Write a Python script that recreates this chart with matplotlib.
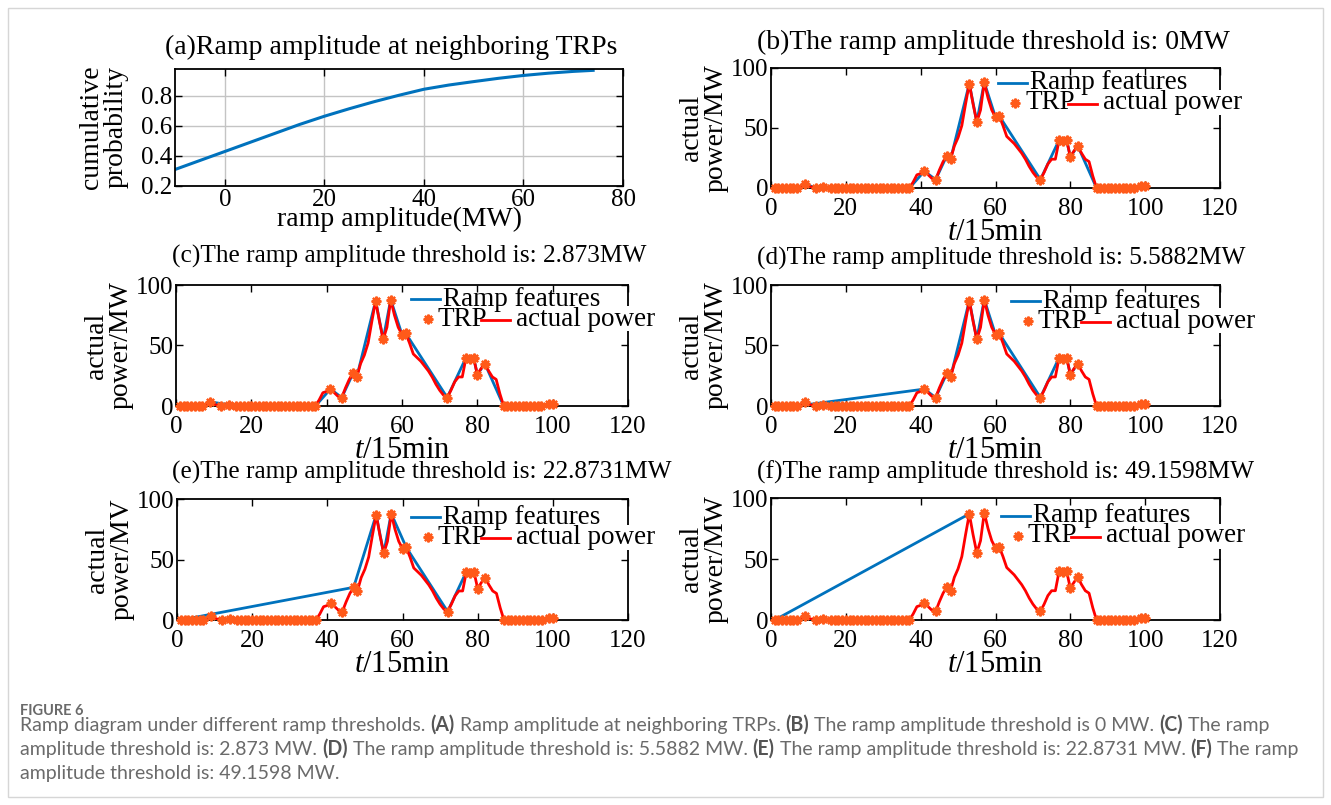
import numpy as np
import matplotlib
matplotlib.use("Agg")
import matplotlib.pyplot as plt
from matplotlib.patches import Rectangle

plt.rcParams['font.family'] = ['Liberation Serif', 'DejaVu Serif']
plt.rcParams['mathtext.fontset'] = 'custom'
plt.rcParams['mathtext.rm'] = 'Liberation Serif'
plt.rcParams['mathtext.it'] = 'Liberation Serif:italic'

W, H = 1331, 805

# ---- data ----
# (a) cumulative distribution of ramp amplitude
amp_mw = [-10, -5, 0, 5, 10, 15, 20, 25, 30, 35, 40, 45, 50, 55, 60, 65, 70, 74]
cum_prob = [0.31, 0.37, 0.43, 0.49, 0.55, 0.61, 0.665, 0.715, 0.762, 0.805,
            0.845, 0.873, 0.896, 0.918, 0.937, 0.952, 0.964, 0.971]

# actual power, t = 1..100 (15 min steps)
t_steps = list(range(1, 101))
power = [0, 0, 0, 0, 0, 0, 0, 1.5, 3.5, 1.5,
         0.5, 0, 0.5, 1, 0, 0, 0, 0, 0, 0,
         0, 0, 0, 0, 0, 0, 0, 0, 0, 0,
         0, 0, 0, 0, 0, 0, 0, 5, 11, 12,
         14, 11, 8, 7, 15, 22, 27, 24, 35, 42,
         52, 70, 87, 70, 55, 65, 88, 75, 65, 59,
         60, 52, 43, 40, 37, 33, 29, 24, 18, 13,
         9, 7, 13, 20, 24, 24, 40, 39, 40, 26,
         31, 35, 29, 24, 22, 10, 0, 0, 0, 0,
         0, 0, 0, 0, 0, 0, 0, 1, 1.5, 2]

# turning points (TRP), same in every panel
trp_idx = ([1, 2, 3, 4, 5, 6, 7, 9, 12, 14] + list(range(16, 38)) +
           [41, 44, 47, 48, 53, 55, 57, 60, 61, 72, 77, 78, 79, 80, 82] +
           list(range(87, 98)) + [99, 100])

# TRPs kept as ramp features for each threshold
ramp_b = trp_idx
ramp_c = [1, 7, 9, 16, 37, 41, 44, 47, 48, 53, 55, 57, 60, 61, 72, 77, 78, 79, 80, 82, 87]
ramp_d = [7, 41, 44, 47, 48, 53, 55, 57, 60, 61, 72, 77, 78, 79, 80, 82]
ramp_e = [1, 47, 53, 55, 57, 61, 72, 77]
ramp_f = [1, 53]

titles = ["(b)The ramp amplitude threshold is: 0MW",
          "(c)The ramp amplitude threshold is: 2.873MW",
          "(d)The ramp amplitude threshold is: 5.5882MW",
          "(e)The ramp amplitude threshold is: 22.8731MW",
          "(f)The ramp amplitude threshold is: 49.1598MW"]
ylabels = ["actual\npower/MW", "actual\npower/MW", "actual\npower/MW",
           "actual\npower/MV", "actual\npower/MW"]

BLUE = '#0072BD'
RED = '#FF0000'
ORANGE = '#FF5A1A'
FS = 20        # titles of (a), (b), axis labels
TFS = 18.3     # titles of (c)-(f)
TICK_FS = 18
LFS = 19.5     # legend
TRP_MARK = (8, 2, 0)   # asterisk, like MATLAB '*'

fig = plt.figure(figsize=(W / 100, H / 100), dpi=100)
fig.patches.append(Rectangle((8 / W, 8 / H), 1 - 16 / W, 1 - 16 / H,
                             transform=fig.transFigure, fill=False,
                             ec='#d6d6d6', lw=1))


def px_axes(l, t, r, b):
    return fig.add_axes([l / W, 1 - b / H, (r - l) / W, (b - t) / H])


def style(ax, xpad):
    ax.tick_params(direction='in', top=True, right=True, length=5, width=1,
                   labelsize=TICK_FS, colors='black')
    ax.tick_params(axis='x', pad=xpad)
    ax.tick_params(axis='y', pad=2)
    for s in ax.spines.values():
        s.set_linewidth(1.3)


def ftext(x, y, s, **kw):
    return fig.text(x / W, 1 - y / H, s, **kw)


# ---- (a) ----
ax = px_axes(175, 69, 623, 186)
ax.plot(amp_mw, cum_prob, color=BLUE, lw=2.2)
ax.set_xlim(-10, 80)
ax.set_ylim(0.2, 0.98)
ax.set_xticks([0, 20, 40, 60, 80])
ax.set_yticks([0.2, 0.4, 0.6, 0.8])
ax.grid(True, color='#c4c4c4', lw=1)
style(ax, 2)
ftext(165, 47, "(a)Ramp amplitude at neighboring TRPs", fontsize=FS,
      ha='left', va='center')
ftext(104, 127, "cumulative\nprobability", fontsize=FS, rotation=90,
      ha='center', va='center', linespacing=1.0)
ftext(400, 219, "ramp amplitude(MW)", fontsize=FS, ha='center', va='center')

# ---- (b)-(f) ----
rects = [(771, 68, 1220, 188), (176, 285, 628, 406), (771, 285, 1220, 406),
         (177, 499, 628, 620), (771, 498, 1220, 620)]
title_pos = [(757, 42), (172, 256), (757, 258), (172, 472), (757, 472)]
ramps = [ramp_b, ramp_c, ramp_d, ramp_e, ramp_f]
leg_off = [(0, 0), (8, -1), (13, 1), (7, 3), (3, 3)]

p = np.array(power)
tt = np.array(t_steps)
trp = np.array(trp_idx) - 1

for k in range(5):
    l, t, r, b = rects[k]
    ax = px_axes(l, t, r, b)
    ri = np.array(ramps[k]) - 1
    ax.plot(tt[ri], p[ri], color=BLUE, lw=2, zorder=2)
    ax.plot(tt, p, color=RED, lw=2, zorder=3)
    ax.plot(tt[trp], p[trp], ls='none', marker=TRP_MARK, ms=7, mew=1.6,
            color=ORANGE, zorder=4, clip_on=False)
    ax.set_xlim(0, 120)
    ax.set_ylim(0, 100)
    ax.set_xticks(range(0, 121, 20))
    ax.set_yticks([0, 50, 100])
    style(ax, 7)

    ftext(title_pos[k][0], title_pos[k][1], titles[k],
          fontsize=FS if k == 0 else TFS, ha='left', va='center')
    ftext(l - 67, (t + b) / 2, ylabels[k], fontsize=FS, rotation=90,
          ha='center', va='center', linespacing=1.0)
    ftext((l + r) / 2, b + 44, r"$t$/15min", fontsize=22, ha='center',
          va='center')

    # legend drawn by hand, MATLAB-like layout
    aw, ah = r - l, b - t
    dx, dy = leg_off[k]

    def fx(v):
        return (v + dx) / aw

    def fy(v):
        return 1 - (v + dy) / ah

    ax.plot([fx(227), fx(256)], [fy(15), fy(15)], color=BLUE, lw=2,
            transform=ax.transAxes, clip_on=False, zorder=6)
    ax.text(fx(259), fy(15), "Ramp features", fontsize=LFS, ha='left',
            va='center', transform=ax.transAxes, zorder=6)
    ax.plot([fx(244)], [fy(35)], ls='none', marker=TRP_MARK, ms=7, mew=1.6,
            color=ORANGE, transform=ax.transAxes, clip_on=False, zorder=6)
    ax.text(fx(254), fy(35), "TRP", fontsize=LFS, ha='left', va='center',
            transform=ax.transAxes, zorder=6)
    ax.plot([fx(297), fx(326)], [fy(36), fy(36)], color=RED, lw=2,
            transform=ax.transAxes, clip_on=False, zorder=7)
    ax.text(fx(332), fy(35), "actual power", fontsize=LFS, ha='left',
            va='center', transform=ax.transAxes, zorder=6,
            bbox=dict(fc='white', ec='none', pad=0))

# ---- caption ----
renderer = fig.canvas.get_renderer()
CAP_FONT = ['Lato', 'DejaVu Sans']
CAP_COL = '#6a6a6a'
BOLD_COL = '#555555'


def text_w(s, size, weight):
    probe = fig.text(0, 0, "|" + s + "|", fontsize=size, family=CAP_FONT,
                     fontweight=weight)
    bar = fig.text(0, 0, "||", fontsize=size, family=CAP_FONT,
                   fontweight=weight)
    w = (probe.get_window_extent(renderer).width -
         bar.get_window_extent(renderer).width)
    probe.remove()
    bar.remove()
    return w


def runs_line(x, y, runs, size):
    for s, bold in runs:
        wt = 'bold' if bold else 'normal'
        ftext(x, y, s, fontsize=size, family=CAP_FONT, fontweight=wt,
              color=BOLD_COL if bold else CAP_COL, ha='left', va='center')
        x += text_w(s, size, wt)


line1 = [("Ramp diagram under different ramp thresholds. ", False), ("(A)", True),
         (" Ramp amplitude at neighboring TRPs. ", False), ("(B)", True),
         (" The ramp amplitude threshold is 0 MW. ", False), ("(C)", True),
         (" The ramp", False)]
line2 = [("amplitude threshold is: 2.873 MW. ", False), ("(D)", True),
         (" The ramp amplitude threshold is: 5.5882 MW. ", False), ("(E)", True),
         (" The ramp amplitude threshold is: 22.8731 MW. ", False), ("(F)", True),
         (" The ramp", False)]
line3 = [("amplitude threshold is: 49.1598 MW.", False)]

base = 11
w1 = sum(text_w(s, base, 'bold' if bd else 'normal') for s, bd in line1)
w2 = sum(text_w(s, base, 'bold' if bd else 'normal') for s, bd in line2)
cap_size = base * 1280 / max(w1, w2)

ftext(20, 711, "FIGURE 6", fontsize=cap_size * 0.75, family=CAP_FONT,
      fontweight='bold', color=CAP_COL, ha='left', va='center')
runs_line(20, 725, line1, cap_size)
runs_line(20, 749, line2, cap_size)
runs_line(20, 773, line3, cap_size)

fig.savefig("out.png", dpi=100)
